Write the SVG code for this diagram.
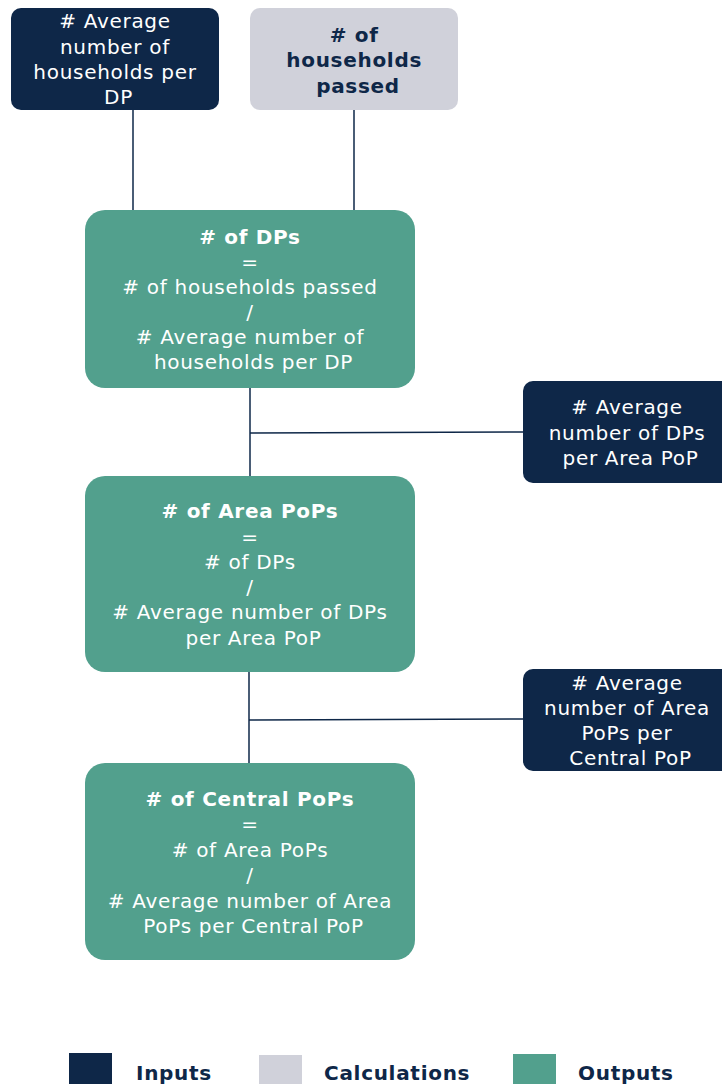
<svg xmlns="http://www.w3.org/2000/svg" width="722" height="1084" viewBox="0 0 722 1084">
  <style>
    .input { fill: #0e2748; }
    .calc { fill: #d0d1da; }
    .output { fill: #52a08d; }
    text { font-family: "DejaVu Sans", Verdana, sans-serif; font-size: 20px; letter-spacing: 0.7px; text-anchor: middle; }
    .light { fill: #ffffff; }
    .dark { fill: #0e2748; }
    .b { font-weight: bold; }
    .legend { font-weight: bold; fill: #0e2748; text-anchor: start; }
    .conn { stroke: #0e2748; stroke-width: 1.5; fill: none; }
  </style>
  <rect width="722" height="1084" fill="#ffffff"/>

  <g id="connectors">
    <line class="conn" x1="133" y1="110" x2="133" y2="210"/>
    <line class="conn" x1="354" y1="110" x2="354" y2="210"/>
    <line class="conn" x1="250" y1="388" x2="250" y2="476"/>
    <line class="conn" x1="250" y1="433" x2="523" y2="432"/>
    <line class="conn" x1="249" y1="672" x2="249" y2="763"/>
    <line class="conn" x1="249" y1="720" x2="523" y2="719"/>
  </g>

  <g id="avg-households-per-dp">
    <rect class="input" x="11" y="8" width="208" height="102" rx="10"/>
    <text class="light">
      <tspan x="118.5" y="28"># Average</tspan>
      <tspan x="118.5" y="54">number of</tspan>
      <tspan x="118.5" y="79">households per</tspan>
      <tspan x="118.5" y="104">DP</tspan>
    </text>
  </g>

  <g id="households-passed">
    <rect class="calc" x="250" y="8" width="208" height="102" rx="10"/>
    <text class="dark b">
      <tspan x="358" y="42"># of</tspan>
      <tspan x="358" y="67">households</tspan>
      <tspan x="358" y="93">passed</tspan>
    </text>
  </g>

  <g id="num-dps">
    <rect class="output" x="85" y="210" width="330" height="178" rx="20"/>
    <text class="light">
      <tspan class="b" x="253.5" y="244"># of DPs</tspan>
      <tspan x="253.5" y="269">=</tspan>
      <tspan x="253.5" y="294"># of households passed</tspan>
      <tspan x="253.5" y="319">/</tspan>
      <tspan x="253.5" y="344"># Average number of</tspan>
      <tspan x="253.5" y="369">households per DP</tspan>
    </text>
  </g>

  <g id="avg-dps-per-area-pop">
    <rect class="input" x="523" y="381" width="210" height="102" rx="10"/>
    <text class="light">
      <tspan x="630.5" y="414"># Average</tspan>
      <tspan x="630.5" y="440">number of DPs</tspan>
      <tspan x="630.5" y="465">per Area PoP</tspan>
    </text>
  </g>

  <g id="num-area-pops">
    <rect class="output" x="85" y="476" width="330" height="196" rx="20"/>
    <text class="light">
      <tspan class="b" x="253.5" y="518"># of Area PoPs</tspan>
      <tspan x="253.5" y="544">=</tspan>
      <tspan x="253.5" y="569"># of DPs</tspan>
      <tspan x="253.5" y="594">/</tspan>
      <tspan x="253.5" y="619"># Average number of DPs</tspan>
      <tspan x="253.5" y="645">per Area PoP</tspan>
    </text>
  </g>

  <g id="avg-area-pops-per-central-pop">
    <rect class="input" x="523" y="669" width="210" height="102" rx="10"/>
    <text class="light">
      <tspan x="630.5" y="690"># Average</tspan>
      <tspan x="630.5" y="715">number of Area</tspan>
      <tspan x="630.5" y="740">PoPs per</tspan>
      <tspan x="630.5" y="765">Central PoP</tspan>
    </text>
  </g>

  <g id="num-central-pops">
    <rect class="output" x="85" y="763" width="330" height="197" rx="20"/>
    <text class="light">
      <tspan class="b" x="253.5" y="806"># of Central PoPs</tspan>
      <tspan x="253.5" y="831">=</tspan>
      <tspan x="253.5" y="857"># of Area PoPs</tspan>
      <tspan x="253.5" y="882">/</tspan>
      <tspan x="253.5" y="908"># Average number of Area</tspan>
      <tspan x="253.5" y="933">PoPs per Central PoP</tspan>
    </text>
  </g>

  <g id="legend">
    <rect class="input" x="69" y="1053" width="43" height="31"/>
    <text class="legend" x="136" y="1080">Inputs</text>
    <rect class="calc" x="259" y="1055" width="43" height="29"/>
    <text class="legend" x="324" y="1080">Calculations</text>
    <rect class="output" x="513" y="1054" width="43" height="30"/>
    <text class="legend" x="578" y="1080">Outputs</text>
  </g>
</svg>
